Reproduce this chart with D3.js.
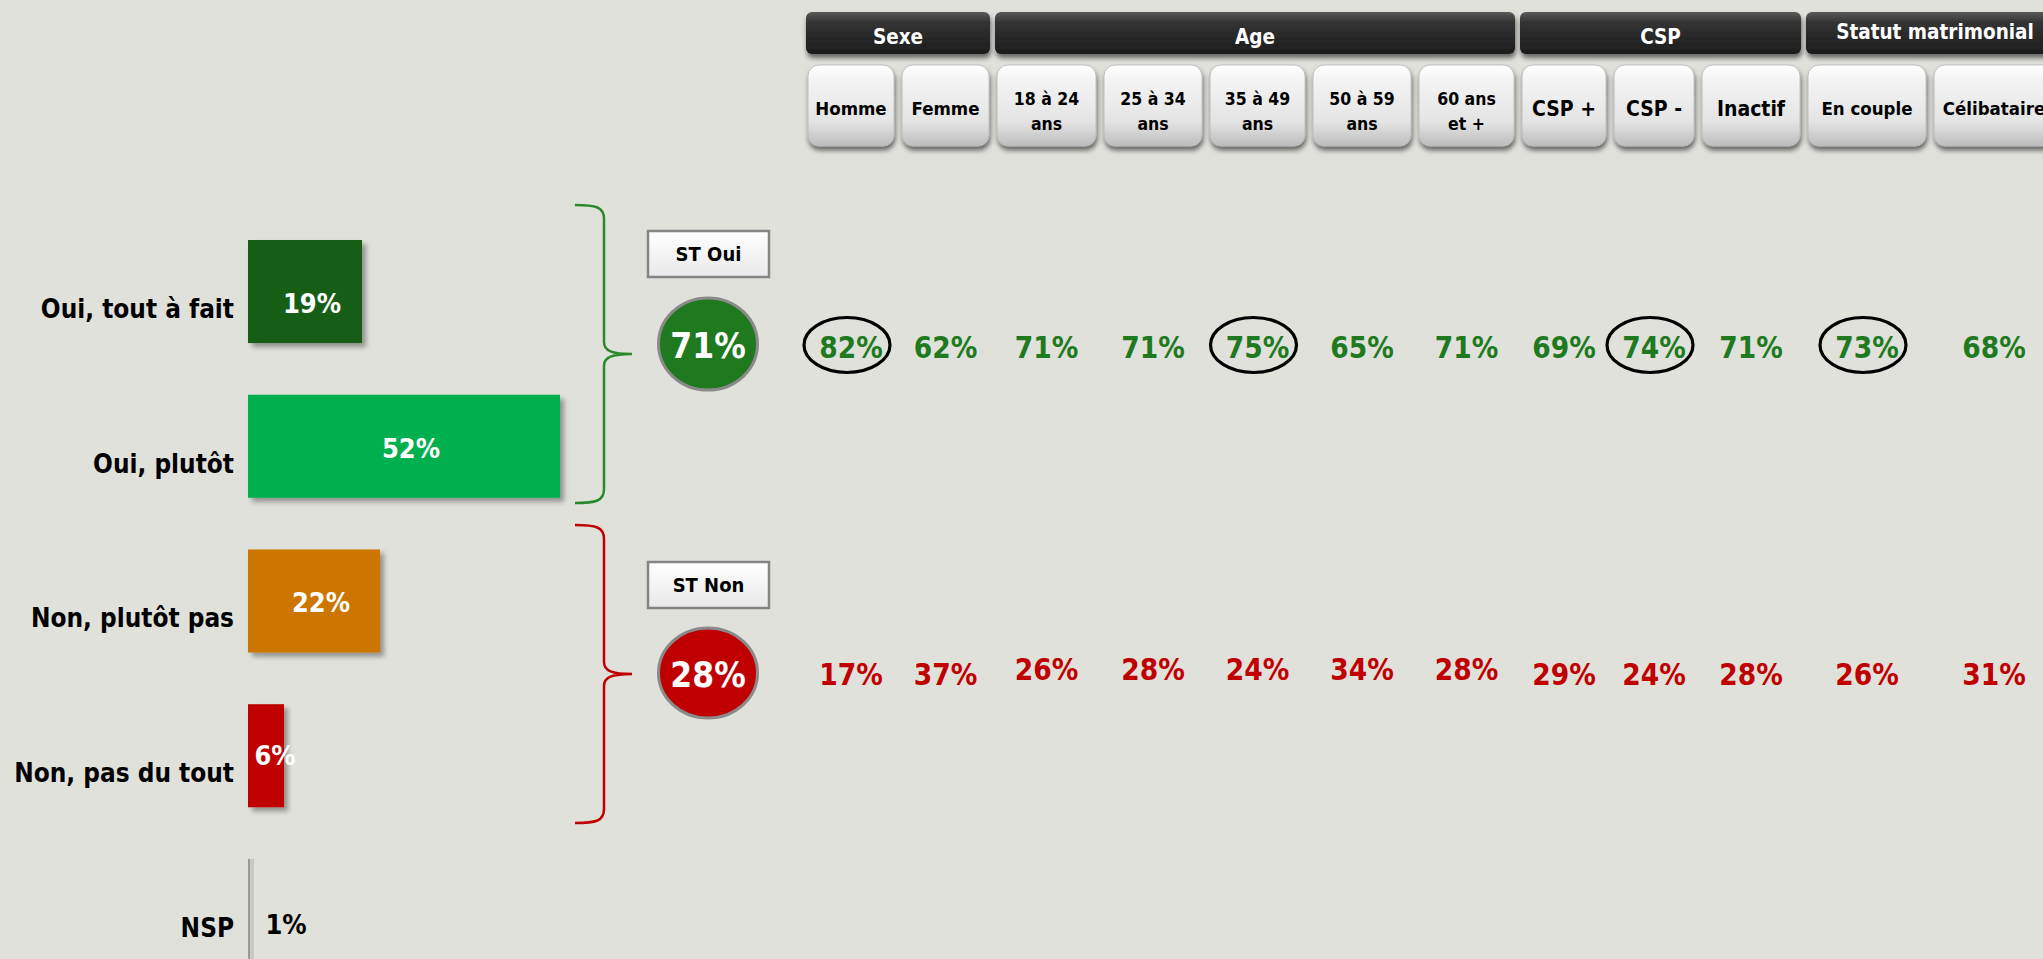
<!DOCTYPE html>
<html><head><meta charset="utf-8">
<script src="https://cdn.jsdelivr.net/npm/d3@7"></script>
<style>
html,body{margin:0;padding:0;background:#e0e1db;overflow:hidden}
svg{display:block;font-family:"DejaVu Sans Condensed","DejaVu Sans",sans-serif;font-stretch:condensed;font-weight:bold}
</style></head>
<body>
<svg id="c" width="2043" height="959"></svg>
<script>
// ---------- DATA ----------
const answers = ["Oui, tout à fait", "Oui, plutôt", "Non, plutôt pas", "Non, pas du tout", "NSP"];
const answerValues = [19, 52, 22, 6, 1];
const groupNames = ["Sexe", "Age", "CSP", "Statut matrimonial"];
const groupSizes = [2, 5, 3, 2];
const subCategories = ["Homme", "Femme", "18 à 24\nans", "25 à 34\nans", "35 à 49\nans", "50 à 59\nans", "60 ans\net +", "CSP +", "CSP -", "Inactif", "En couple", "Célibataire"];
const stOui = [82, 62, 71, 71, 75, 65, 71, 69, 74, 71, 73, 68];
const stNon = [17, 37, 26, 28, 24, 34, 28, 29, 24, 28, 26, 31];
const highlighted = ["Homme", "35 à 49\nans", "CSP -", "En couple"];
const totalLabels = ["ST Oui", "ST Non"];
const totalValues = [71, 28];

// ---------- STYLE / LAYOUT ----------
const barColors = ["#185d17", "#00b050", "#cc7604", "#c00000", "#c9cac4"];
const groupColors = ["#1f7a1f", "#c00000"];
const braceColors = ["#2a8a2a", "#c00000"];
const colWeights = [94, 95, 107, 106, 103, 106, 103, 92, 88, 106, 126, 128];
const subFont = [18.5, 18.5, 17.5, 17.5, 17.5, 17.5, 17.5, 21, 21, 21, 18.5, 18.5];

const svg = d3.select("#c");
const defs = svg.append("defs");

const sh = defs.append("filter").attr("id", "barShadow").attr("x", "-10%").attr("y", "-10%").attr("width", "130%").attr("height", "130%");
sh.append("feDropShadow").attr("dx", 4).attr("dy", 4).attr("stdDeviation", 2.5).attr("flood-color", "#000").attr("flood-opacity", 0.35);
const bsh = defs.append("filter").attr("id", "btnShadow").attr("x", "-10%").attr("y", "-10%").attr("width", "125%").attr("height", "130%");
bsh.append("feDropShadow").attr("dx", 1).attr("dy", 4).attr("stdDeviation", 2.5).attr("flood-color", "#000").attr("flood-opacity", 0.55);

const gBtn = defs.append("linearGradient").attr("id", "gBtn").attr("x1", 0).attr("y1", 0).attr("x2", 0).attr("y2", 1);
[["0%", "#ffffff"], ["18%", "#f4f4f4"], ["70%", "#e4e4e4"], ["100%", "#bdbdbd"]].forEach(s => gBtn.append("stop").attr("offset", s[0]).attr("stop-color", s[1]));
const gHead = defs.append("linearGradient").attr("id", "gHead").attr("x1", 0).attr("y1", 0).attr("x2", 0).attr("y2", 1);
[["0%", "#5a5a5a"], ["25%", "#333333"], ["100%", "#1c1c1c"]].forEach(s => gHead.append("stop").attr("offset", s[0]).attr("stop-color", s[1]));
const gBox = defs.append("linearGradient").attr("id", "gBox").attr("x1", 0).attr("y1", 0).attr("x2", 0).attr("y2", 1);
[["0%", "#ffffff"], ["100%", "#e9e9e9"]].forEach(s => gBox.append("stop").attr("offset", s[0]).attr("stop-color", s[1]));

// helper: narrowed text
function squeeze(sel, sx) {
  sel.attr("transform", function () {
    const t = d3.select(this);
    const xx = +t.attr("data-x"), yy = +t.attr("data-y");
    return `translate(${xx},${yy}) scale(${sx},1)`;
  });
}

// ---------- LEFT BAR CHART ----------
const x = d3.scaleLinear().domain([0, 100]).range([248, 848]);
const y = d3.scaleBand().domain(answers).range([240, 962]).paddingInner(0.334).paddingOuter(0);
const bw = y.bandwidth();

const bars = svg.append("g");
bars.selectAll("rect.bar").data(answers).join("rect")
  .attr("class", "bar")
  .attr("x", x(0)).attr("y", d => y(d))
  .attr("width", (d, i) => x(answerValues[i]) - x(0))
  .attr("height", bw)
  .attr("fill", (d, i) => barColors[i])
  .attr("filter", (d, i) => i < 4 ? "url(#barShadow)" : null);
bars.append("line").attr("x1", x(0) + 1).attr("x2", x(0) + 1)
  .attr("y1", y("NSP")).attr("y2", y("NSP") + bw).attr("stroke", "#9a9a9a").attr("stroke-width", 2);

bars.selectAll("text.lab").data(answers).join("text")
  .attr("class", "lab")
  .attr("data-x", 234).attr("data-y", d => y(d) + bw / 2 + 17).attr("dy", "0.35em")
  .attr("text-anchor", "end").attr("font-size", 27).attr("fill", "#000")
  .text(d => d)
  .call(squeeze, 0.96);

bars.selectAll("text.val").data(answers).join("text")
  .attr("class", "val")
  .attr("x", (d, i) => {
    const w = x(answerValues[i]) - x(0);
    return i === 4 ? x(answerValues[i]) + 32 : (w < 60 ? x(0) + 27 : x(0) + w / 2 + 7);
  })
  .attr("y", (d, i) => y(d) + bw / 2 + [12, 2, 2, 0, 14][i]).attr("dy", "0.35em")
  .attr("text-anchor", "middle").attr("font-size", 27)
  .attr("fill", (d, i) => i === 4 ? "#000" : "#fff")
  .text((d, i) => answerValues[i] + "%");

// ---------- BRACES + TOTALS ----------
const rowY = [346, 674];
const braceMid = [354, 674];
rowY.forEach((cy, k) => {
  const m = braceMid[k];
  const top = m - 149, bot = m + 149, vx = 604, hx = 575, tx = 632;
  const p = `M${hx},${top} C${vx - 8},${top} ${vx},${top + 2} ${vx},${top + 14} L${vx},${m - 12} C${vx},${m - 3} ${vx + 8},${m} ${tx},${m}
             M${tx},${m} C${vx + 8},${m} ${vx},${m + 3} ${vx},${m + 12} L${vx},${bot - 14} C${vx},${bot - 2} ${vx - 8},${bot} ${hx},${bot}`;
  svg.append("path").attr("d", p).attr("fill", "none").attr("stroke", braceColors[k]).attr("stroke-width", 2.5);

  const bt = k === 0 ? 231 : 562;
  svg.append("rect").attr("x", 648).attr("y", bt).attr("width", 121).attr("height", 46)
    .attr("fill", "url(#gBox)").attr("stroke", "#858585").attr("stroke-width", 2.5);
  svg.append("text").attr("x", 708.5).attr("y", bt + 23).attr("dy", "0.35em").attr("text-anchor", "middle")
    .attr("font-size", 20).attr("fill", "#000").text(totalLabels[k]);

  svg.append("ellipse").attr("cx", 708).attr("cy", k === 0 ? 344 : 673).attr("rx", 49.5).attr("ry", k === 0 ? 46 : 45)
    .attr("fill", groupColors[k]).attr("stroke", "#8a8a8a").attr("stroke-width", 3);
  svg.append("text").attr("x", 708).attr("y", k === 0 ? 346 : 675).attr("dy", "0.35em").attr("text-anchor", "middle")
    .attr("font-size", 35).attr("fill", "#fff").text(totalValues[k] + "%");
});

// ---------- COLUMNS ----------
const totalW = d3.sum(colWeights);
const cx = d3.scaleLinear().domain([0, totalW]).range([808, 2062]);
const cum = [0]; colWeights.forEach(w => cum.push(cum[cum.length - 1] + w));
const gap = 8;
const colL = subCategories.map((d, i) => cx(cum[i]));
const colR = subCategories.map((d, i) => cx(cum[i + 1]) - gap);
const colC = subCategories.map((d, i) => (colL[i] + colR[i]) / 2);

let start = 0;
groupNames.forEach((g, gi) => {
  const a = start, b = start + groupSizes[gi] - 1;
  start += groupSizes[gi];
  const x0 = colL[a] - 2, x1 = colR[b] + 1;
  svg.append("rect").attr("x", x0).attr("y", 12).attr("width", x1 - x0).attr("height", 42).attr("rx", 6)
    .attr("fill", "url(#gHead)").attr("filter", "url(#btnShadow)");
  svg.append("text").attr("x", gi === 3 ? 1935 : (x0 + x1) / 2).attr("y", gi === 3 ? 32 : 37).attr("dy", "0.35em")
    .attr("text-anchor", "middle").attr("font-size", 20.5).attr("fill", "#fff").text(g);
});

const btn = svg.append("g").selectAll("g").data(subCategories).join("g");
btn.append("rect").attr("x", (d, i) => colL[i]).attr("y", 65).attr("width", (d, i) => colR[i] - colL[i])
  .attr("height", 81).attr("rx", 11).attr("fill", "url(#gBtn)").attr("stroke", "#b5b5b5").attr("stroke-width", 0.8)
  .attr("filter", "url(#btnShadow)");
btn.each(function (d, i) {
  const lines = d.split("\n");
  const t = d3.select(this).append("text").attr("text-anchor", "middle").attr("font-size", subFont[i]).attr("fill", "#000");
  if (lines.length === 1) {
    t.append("tspan").attr("x", colC[i]).attr("y", 109).attr("dy", "0.35em").text(lines[0]);
  } else {
    lines.forEach((l, k) => t.append("tspan").attr("x", colC[i]).attr("y", 99 + k * 25).attr("dy", "0.35em").text(l));
  }
});

const ouiY = subCategories.map(() => 348);
const nonY = subCategories.map((d, i) => (i >= 2 && i <= 6) ? 670 : 675);
svg.append("g").selectAll("text").data(stOui).join("text")
  .attr("x", (d, i) => colC[i]).attr("y", (d, i) => ouiY[i]).attr("dy", "0.35em")
  .attr("text-anchor", "middle").attr("font-size", 29.5).attr("fill", groupColors[0])
  .text(d => d + "%");
svg.append("g").selectAll("text").data(stNon).join("text")
  .attr("x", (d, i) => colC[i]).attr("y", (d, i) => nonY[i]).attr("dy", "0.35em")
  .attr("text-anchor", "middle").attr("font-size", 29.5).attr("fill", groupColors[1])
  .text(d => d + "%");

svg.append("g").selectAll("ellipse").data(highlighted).join("ellipse")
  .attr("cx", d => colC[subCategories.indexOf(d)] - 4).attr("cy", 345)
  .attr("rx", 43).attr("ry", 27.5)
  .attr("fill", "none").attr("stroke", "#000").attr("stroke-width", 3.2);
</script>
</body></html>
